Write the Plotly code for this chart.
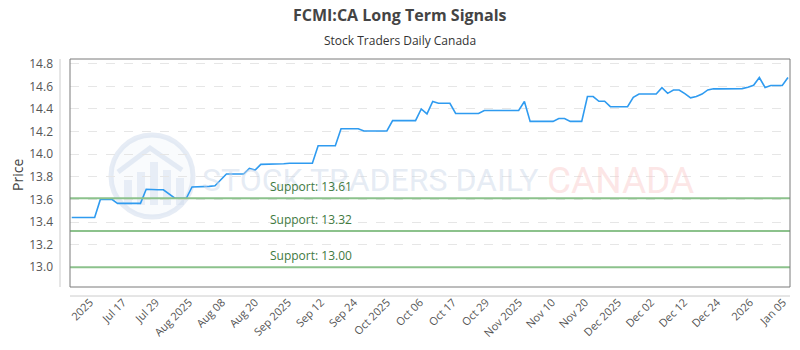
import plotly.graph_objects as go

# ---- data ----
prices = [
    13.44, 13.44, 13.44, 13.44, 13.44,           # 0-4
    13.60, 13.60, 13.60,                          # 5-7
    13.565, 13.565, 13.565, 13.565, 13.565,       # 8-12
    13.69, 13.685, 13.685, 13.685,                # 13-16
    13.65, 13.61, 13.61, 13.61,                   # 17-20
    13.71, 13.71, 13.71, 13.715, 13.72,           # 21-25
    13.77, 13.825, 13.825, 13.825, 13.825,        # 26-30
    13.875, 13.86,                                # 31-32
    13.91, 13.91, 13.915, 13.915, 13.915,         # 33-37
    13.92, 13.92, 13.92, 13.92, 13.92,            # 38-42
    14.075, 14.075, 14.075, 14.075,               # 43-46
    14.225, 14.225, 14.225, 14.225,               # 47-50
    14.205, 14.205, 14.205, 14.205, 14.205,       # 51-55
    14.297, 14.297, 14.297, 14.297, 14.297,       # 56-60
    14.40, 14.356, 14.466,                        # 61-63
    14.45, 14.45, 14.45,                          # 64-66
    14.36, 14.36, 14.36, 14.36, 14.36,            # 67-71
    14.386, 14.386, 14.386, 14.386, 14.386, 14.386, 14.386,  # 72-78
    14.466,                                       # 79
    14.29, 14.29, 14.29, 14.29, 14.29,            # 80-84
    14.316, 14.316,                               # 85-86
    14.29, 14.29, 14.29,                          # 87-89
    14.51, 14.51,                                 # 90-91
    14.468, 14.468,                               # 92-93
    14.42, 14.42, 14.42, 14.42,                   # 94-97
    14.503,                                       # 98
    14.532, 14.532, 14.532, 14.532,               # 99-102
    14.588, 14.538, 14.568, 14.568,               # 103-106
    14.535, 14.498, 14.51, 14.532,                # 107-110
    14.568, 14.578, 14.578, 14.578, 14.578, 14.578,  # 111-116
    14.58, 14.593, 14.61, 14.678,                 # 117-120
    14.59, 14.607, 14.607, 14.607, 14.678,        # 121-125
]
support_levels = [13.61, 13.32, 13.00]
tick_labels = ["2025", "Jul 17", "Jul 29", "Aug 2025", "Aug 08", "Aug 20",
               "Sep 2025", "Sep 12", "Sep 24", "Oct 2025", "Oct 06", "Oct 17",
               "Oct 29", "Nov 2025", "Nov 10", "Nov 20", "Dec 2025", "Dec 02",
               "Dec 12", "Dec 24", "2026", "Jan 05"]

TITLE = "FCMI:CA Long Term Signals"
SUBTITLE = "Stock Traders Daily Canada"

# ---- layout geometry ----
W, H = 800, 350
L, R, T, B = 70, 10, 59, 63
PW, PH = W - L - R, H - T - B

def px(x):
    return (x - L) / PW

def py(y):
    return (H - B - y) / PH

idx = list(range(len(prices)))
tick_first, tick_step = 3.2, 5.76
tickvals = [tick_first + tick_step * k for k in range(len(tick_labels))]

fig = go.Figure()

fig.add_trace(go.Scatter(
    x=idx, y=prices, mode="lines",
    line=dict(color="#2f9bf0", width=1.6),
    hoverinfo="skip", showlegend=False,
))

shapes = []
annotations = []

# watermark logo (circle)
cx, cy, rr = 152, 176, 41
shapes.append(dict(type="circle", xref="paper", yref="paper",
                   x0=px(cx - rr), x1=px(cx + rr), y0=py(cy + rr), y1=py(cy - rr),
                   line=dict(color="rgba(205,218,236,0.5)", width=5),
                   fillcolor="rgba(235,241,249,0.3)", layer="below"))
for bx, btop in [(124, 180), (137, 172), (150, 162), (163, 170), (176, 178)]:
    shapes.append(dict(type="rect", xref="paper", yref="paper",
                       x0=px(bx), x1=px(bx + 8), y0=py(205), y1=py(btop),
                       line=dict(width=0), fillcolor="rgba(205,218,236,0.4)", layer="below"))
shapes.append(dict(type="path", xref="paper", yref="paper",
                   path=f"M {px(118)},{py(172)} L {px(150)},{py(148)} L {px(182)},{py(170)}",
                   line=dict(color="rgba(205,218,236,0.5)", width=5), layer="below"))

annotations.append(dict(text="STOCK TRADERS DAILY", xref="paper", yref="paper",
                        x=px(200), y=py(180), xanchor="left", yanchor="middle",
                        showarrow=False,
                        font=dict(family="Roboto", size=32, color="rgba(200,212,232,0.45)")))
annotations.append(dict(text="CANADA", xref="paper", yref="paper",
                        x=px(545), y=py(180), xanchor="left", yanchor="middle",
                        showarrow=False,
                        font=dict(family="Roboto", size=37, color="rgba(250,200,200,0.45)")))

# support lines
for lvl in support_levels:
    shapes.append(dict(type="line", xref="paper", yref="y",
                       x0=0, x1=1, y0=lvl, y1=lvl,
                       line=dict(color="#8cc28c", width=2), layer="above"))
    annotations.append(dict(text=f"Support: {lvl:.2f}", xref="paper", yref="y",
                            x=px(268), y=lvl, xanchor="left", yanchor="bottom",
                            yshift=1, showarrow=False,
                            font=dict(family="Open Sans", size=12, color="#3f7a3f")))

# frame & offset axis lines
shapes.append(dict(type="rect", xref="paper", yref="paper", x0=0, x1=1, y0=0, y1=1,
                   line=dict(color="#7a7a7a", width=1), layer="above"))
shapes.append(dict(type="line", xref="paper", yref="paper",
                   x0=px(60), x1=px(60), y0=0, y1=1,
                   line=dict(color="#cccccc", width=1)))
shapes.append(dict(type="line", xref="paper", yref="paper",
                   x0=0, x1=1, y0=py(296), y1=py(296),
                   line=dict(color="#cccccc", width=1)))

# titles
annotations.append(dict(text=f"<b>{TITLE}</b>", xref="paper", yref="paper",
                        x=px(400), y=py(15), xanchor="center", yanchor="middle",
                        showarrow=False,
                        font=dict(family="Open Sans", size=16, color="#444444")))
annotations.append(dict(text=SUBTITLE, xref="paper", yref="paper",
                        x=px(400), y=py(40), xanchor="center", yanchor="middle",
                        showarrow=False,
                        font=dict(family="Open Sans", size=12, color="#333333")))
annotations.append(dict(text="Price", xref="paper", yref="paper",
                        x=px(17), y=py(175), xanchor="center", yanchor="middle",
                        textangle=-90, showarrow=False,
                        font=dict(family="Open Sans", size=14, color="#444444")))

fig.update_layout(
    width=W, height=H,
    margin=dict(l=L, r=R, t=T, b=B, autoexpand=False),
    paper_bgcolor="white", plot_bgcolor="white",
    showlegend=False,
    shapes=shapes, annotations=annotations,
    xaxis=dict(range=[-0.3, 125.35], tickvals=tickvals, ticktext=tick_labels,
               tickangle=-45, showgrid=False, zeroline=False, showline=False,
               ticks="", ticklabelstandoff=6,
               tickfont=dict(family="Open Sans", size=11, color="#555555")),
    yaxis=dict(range=[12.825, 14.842], tickvals=[13.0, 13.2, 13.4, 13.6, 13.8, 14.0, 14.2, 14.4, 14.6, 14.8],
               ticktext=["13.0", "13.2", "13.4", "13.6", "13.8", "14.0", "14.2", "14.4", "14.6", "14.8"],
               showgrid=True, gridcolor="#e6e6e6", griddash="dash", gridwidth=1,
               zeroline=False, showline=False, ticks="", ticklabelstandoff=16,
               tickfont=dict(family="Open Sans", size=12, color="#555555")),
)

fig.write_html("out.html")
